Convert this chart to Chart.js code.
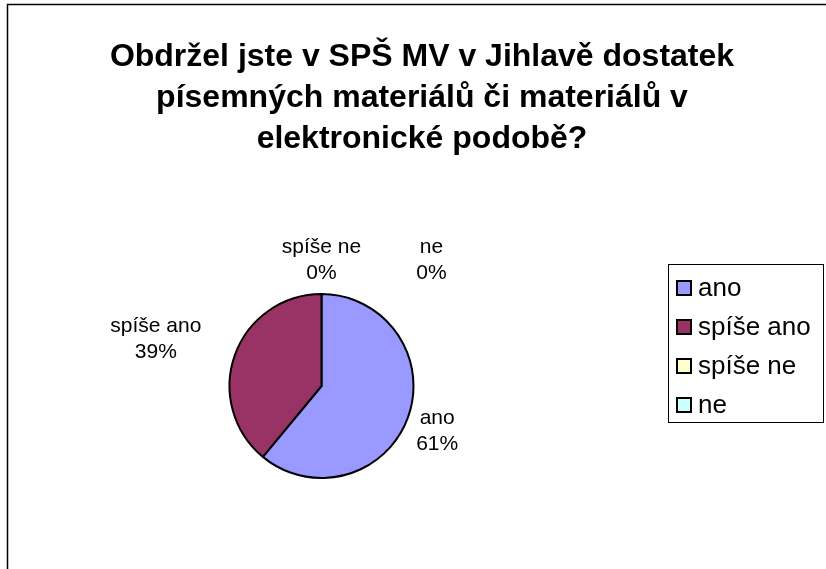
<!DOCTYPE html>
<html>
<head>
<meta charset="utf-8">
<script src="https://cdn.jsdelivr.net/npm/chart.js@4/dist/chart.umd.min.js"></script>
<style>
    html, body { margin: 0; padding: 0; background: #fff; }
    canvas { display: block; }
</style>
</head>
<body>
<canvas id="pieChart" width="826" height="569"></canvas>
<script>
// Data
const categories = ['ano', 'spíše ano', 'spíše ne', 'ne'];
const shares = [61, 39, 0, 0];
const sliceColors = ['#9999FF', '#993366', '#FFFFCC', '#CCFFFF'];
const titleLines = [
    'Obdržel jste v SPŠ MV v Jihlavě dostatek',
    'písemných materiálů či materiálů v',
    'elektronické podobě?'
];

const FONT = '"Liberation Sans", Arial, sans-serif';

// Frame around the chart (only left and top edges are visible in the crop)
const framePlugin = {
    id: 'frame',
    beforeDraw(chart) {
        const ctx = chart.ctx;
        ctx.save();
        ctx.fillStyle = '#fff';
        ctx.fillRect(0, 0, chart.width, chart.height);
        ctx.strokeStyle = '#000';
        ctx.lineWidth = 1.5;
        ctx.strokeRect(7.5, 4.5, chart.width + 20, chart.height + 20);
        ctx.restore();
    }
};

// Multi-line title
const titlePlugin = {
    id: 'excelTitle',
    afterDraw(chart) {
        const ctx = chart.ctx;
        ctx.save();
        ctx.fillStyle = '#000';
        ctx.font = 'bold 32px ' + FONT;
        ctx.textAlign = 'center';
        ctx.textBaseline = 'alphabetic';
        titleLines.forEach((line, i) => {
            ctx.fillText(line, 422, 66 + i * 41);
        });
        ctx.restore();
    }
};

// Category + percentage labels outside the slices
const sliceLabelPlugin = {
    id: 'sliceLabels',
    afterDatasetsDraw(chart, args, opts) {
        const ctx = chart.ctx;
        const meta = chart.getDatasetMeta(0);
        const values = chart.data.datasets[0].data;
        const total = values.reduce((a, b) => a + b, 0);
        ctx.save();
        ctx.fillStyle = '#000';
        ctx.font = '21px ' + FONT;
        ctx.textAlign = 'center';
        ctx.textBaseline = 'alphabetic';
        meta.data.forEach((arc, i) => {
            const p = arc.getProps(['x', 'y', 'startAngle', 'endAngle', 'outerRadius'], true);
            const mid = (p.startAngle + p.endAngle) / 2;
            const dist = p.outerRadius + opts.gap;
            const nudge = opts.nudge[i] || [0, 0];
            const cx = p.x + Math.cos(mid) * dist + nudge[0];
            const cy = p.y + Math.sin(mid) * dist + nudge[1];
            const pct = Math.round(values[i] / total * 100) + '%';
            ctx.fillText(chart.data.labels[i], cx, cy - 6);
            ctx.fillText(pct, cx, cy + 20);
        });
        ctx.restore();
    }
};

// Boxed legend on the right
const boxLegendPlugin = {
    id: 'boxLegend',
    afterDraw(chart) {
        const ctx = chart.ctx;
        const colors = chart.data.datasets[0].backgroundColor;
        ctx.save();
        ctx.strokeStyle = '#000';
        ctx.lineWidth = 1;
        ctx.fillStyle = '#fff';
        ctx.fillRect(668.5, 264.5, 155, 158);
        ctx.strokeRect(668.5, 264.5, 155, 158);
        ctx.font = '26px ' + FONT;
        ctx.textAlign = 'left';
        ctx.textBaseline = 'middle';
        chart.data.labels.forEach((label, i) => {
            const y = 288 + i * 39;
            ctx.fillStyle = colors[i];
            ctx.fillRect(677, y - 7, 14, 14);
            ctx.lineWidth = 2;
            ctx.strokeStyle = '#000';
            ctx.strokeRect(677, y - 7, 14, 14);
            ctx.fillStyle = '#000';
            ctx.fillText(label, 698, y + 1);
        });
        ctx.restore();
    }
};

const pieChart = new Chart(document.getElementById('pieChart'), {
    type: 'pie',
    data: {
        labels: categories,
        datasets: [{
            data: shares,
            backgroundColor: sliceColors,
            borderColor: '#000',
            borderWidth: 2
        }]
    },
    options: {
        responsive: false,
        devicePixelRatio: 1,
        animation: false,
        radius: 92,
        layout: {
            padding: { left: 221, right: 404, top: 286, bottom: 83 }
        },
        plugins: {
            legend: { display: false },
            title: { display: false },
            tooltip: { enabled: false },
            sliceLabels: {
                gap: 32,
                nudge: [[-1, 2], [-49, -6], [0, -3], [110, -3]]
            }
        }
    },
    plugins: [framePlugin, titlePlugin, sliceLabelPlugin, boxLegendPlugin]
});
</script>
</body>
</html>
